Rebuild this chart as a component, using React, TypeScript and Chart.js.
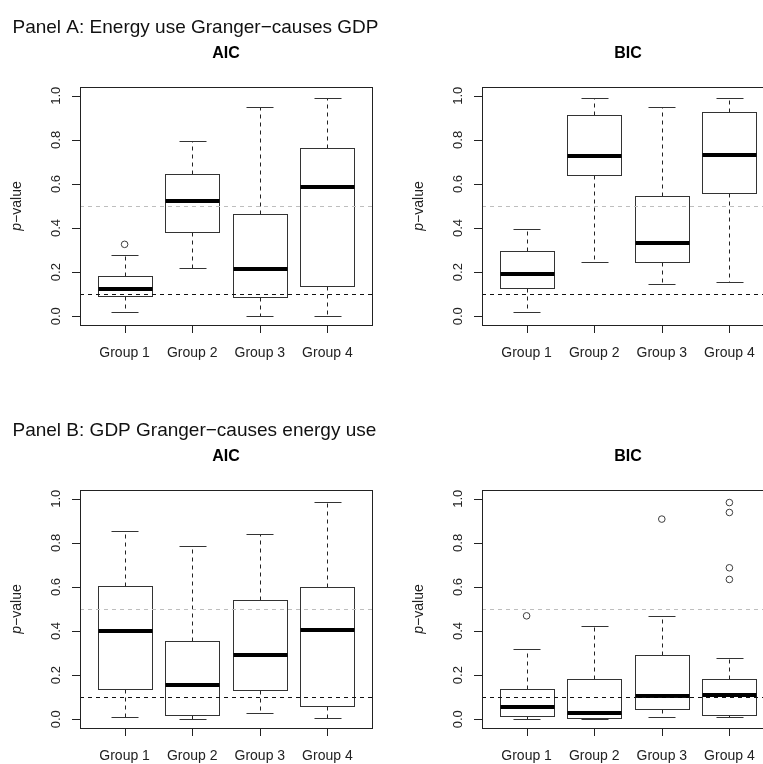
import React, { useEffect, useRef } from "react";
import { Chart, registerables } from "chart.js";

Chart.register(...registerables);

// ---------- data ----------
const groups = ["Group 1", "Group 2", "Group 3", "Group 4"];
const yTicks = [0, 0.2, 0.4, 0.6, 0.8, 1.0];
const yTickLabels = ["0.0", "0.2", "0.4", "0.6", "0.8", "1.0"];
const refBlack = 0.1;
const refGray = 0.5;

// Panel A, AIC
const aAicLow = [0.017, 0.219, 0.003, 0.003];
const aAicQ1 = [0.092, 0.384, 0.088, 0.136];
const aAicMed = [0.125, 0.523, 0.216, 0.585];
const aAicQ3 = [0.184, 0.644, 0.465, 0.761];
const aAicHigh = [0.276, 0.793, 0.947, 0.988];
const aAicOut = [[0.326], [], [], []];

// Panel A, BIC
const aBicLow = [0.021, 0.248, 0.145, 0.154];
const aBicQ1 = [0.128, 0.64, 0.248, 0.557];
const aBicMed = [0.193, 0.727, 0.332, 0.733];
const aBicQ3 = [0.296, 0.912, 0.544, 0.927];
const aBicHigh = [0.397, 0.988, 0.947, 0.988];
const aBicOut = [[], [], [], []];

// Panel B, AIC
const bAicLow = [0.009, 0.0, 0.026, 0.005];
const bAicQ1 = [0.138, 0.018, 0.134, 0.058];
const bAicMed = [0.401, 0.153, 0.293, 0.404];
const bAicQ3 = [0.605, 0.355, 0.54, 0.601];
const bAicHigh = [0.856, 0.788, 0.842, 0.985];
const bAicOut = [[], [], [], []];

// Panel B, BIC
const bBicLow = [0.0, 0.0, 0.009, 0.009];
const bBicQ1 = [0.014, 0.005, 0.044, 0.021];
const bBicMed = [0.056, 0.029, 0.104, 0.112];
const bBicQ3 = [0.136, 0.182, 0.29, 0.182];
const bBicHigh = [0.318, 0.424, 0.469, 0.277];
const bBicOut = [[0.469], [], [0.908], [0.983, 0.938, 0.687, 0.634]];

const headingA = "Panel A: Energy use Granger\u2212causes GDP";
const headingB = "Panel B: GDP Granger\u2212causes energy use";

const FONT = '"Liberation Sans", Arial, Helvetica, sans-serif';

type BoxSet = {
  low: number[];
  q1: number[];
  med: number[];
  q3: number[];
  high: number[];
  out: number[][];
};

type PanelProps = {
  left: number;
  top: number;
  width: number;
  height: number;
  padBottom: number;
  title: string;
  heading?: string;
  box: BoxSet;
};

const crisp = (v: number) => Math.round(v) + 0.5;

function makePlugin(p: PanelProps) {
  return {
    id: "rbox",
    beforeDatasetsDraw(chart: any) {
      const { ctx } = chart;
      const xs = chart.scales.x;
      const ys = chart.scales.y;
      const b = p.box;
      ctx.save();
      for (let i = 0; i < groups.length; i++) {
        const c = i + 1;
        const xc = crisp(xs.getPixelForValue(c));
        const xl = Math.round(xs.getPixelForValue(c - 0.4)) + 0.5;
        const xr = Math.round(xs.getPixelForValue(c + 0.4)) + 0.5;
        const sl = Math.round(xs.getPixelForValue(c - 0.2)) + 0.5;
        const sr = Math.round(xs.getPixelForValue(c + 0.2)) + 0.5;
        const yLow = crisp(ys.getPixelForValue(b.low[i]));
        const yQ1 = crisp(ys.getPixelForValue(b.q1[i]));
        const yMed = ys.getPixelForValue(b.med[i]);
        const yQ3 = crisp(ys.getPixelForValue(b.q3[i]));
        const yHigh = crisp(ys.getPixelForValue(b.high[i]));
        // whiskers
        ctx.strokeStyle = "#222";
        ctx.lineWidth = 1;
        ctx.setLineDash([4, 4]);
        ctx.beginPath();
        ctx.moveTo(xc, yQ3);
        ctx.lineTo(xc, yHigh);
        ctx.moveTo(xc, yQ1);
        ctx.lineTo(xc, yLow);
        ctx.stroke();
        ctx.setLineDash([]);
        // staples
        ctx.strokeStyle = "#333";
        ctx.beginPath();
        ctx.moveTo(sl, yHigh);
        ctx.lineTo(sr, yHigh);
        ctx.moveTo(sl, yLow);
        ctx.lineTo(sr, yLow);
        ctx.stroke();
        // box
        ctx.fillStyle = "#ffffff";
        ctx.fillRect(xl, yQ3, xr - xl, yQ1 - yQ3);
        ctx.strokeStyle = "#333";
        ctx.strokeRect(xl, yQ3, xr - xl, yQ1 - yQ3);
        // median
        ctx.strokeStyle = "#000";
        ctx.lineWidth = 4;
        ctx.beginPath();
        ctx.moveTo(xl, Math.round(yMed));
        ctx.lineTo(xr, Math.round(yMed));
        ctx.stroke();
      }
      ctx.restore();
    },
    afterDatasetsDraw(chart: any) {
      const { ctx, chartArea: a } = chart;
      const ys = chart.scales.y;
      ctx.save();
      ctx.lineWidth = 1;
      ctx.setLineDash([4, 4]);
      const yg = crisp(ys.getPixelForValue(refGray));
      ctx.strokeStyle = "#bebebe";
      ctx.beginPath();
      ctx.moveTo(a.left, yg);
      ctx.lineTo(a.right, yg);
      ctx.stroke();
      const yb = crisp(ys.getPixelForValue(refBlack));
      ctx.strokeStyle = "#111";
      ctx.beginPath();
      ctx.moveTo(a.left, yb);
      ctx.lineTo(a.right, yb);
      ctx.stroke();
      ctx.restore();
    },
    afterDraw(chart: any) {
      const { ctx, chartArea: a } = chart;
      const xs = chart.scales.x;
      const ys = chart.scales.y;
      ctx.save();
      ctx.setLineDash([]);
      ctx.lineWidth = 1;
      ctx.strokeStyle = "#222";
      const L = Math.round(a.left);
      const R = Math.round(a.right);
      const T = Math.round(a.top);
      const B = Math.round(a.bottom);
      ctx.strokeRect(L + 0.5, T + 0.5, R - L, B - T);
      // y ticks
      ctx.fillStyle = "#222";
      ctx.font = `13px ${FONT}`;
      ctx.textAlign = "center";
      ctx.textBaseline = "alphabetic";
      yTicks.forEach((v, k) => {
        const y = crisp(ys.getPixelForValue(v));
        ctx.beginPath();
        ctx.moveTo(L - 8, y);
        ctx.lineTo(L, y);
        ctx.stroke();
        ctx.save();
        ctx.translate(L - 20, ys.getPixelForValue(v));
        ctx.rotate(-Math.PI / 2);
        ctx.fillText(yTickLabels[k], 0, 0);
        ctx.restore();
      });
      // x ticks
      ctx.font = `14px ${FONT}`;
      groups.forEach((g, i) => {
        const x = crisp(xs.getPixelForValue(i + 1));
        ctx.beginPath();
        ctx.moveTo(x, B);
        ctx.lineTo(x, B + 8);
        ctx.stroke();
        ctx.fillText(g, xs.getPixelForValue(i + 1), B + 31.5);
      });
      // title
      ctx.fillStyle = "#000";
      ctx.font = `bold 16px ${FONT}`;
      ctx.fillText(p.title, (a.left + a.right) / 2, T - 29.5);
      // y label
      ctx.save();
      ctx.translate(L - 59, (a.top + a.bottom) / 2);
      ctx.rotate(-Math.PI / 2);
      ctx.fillStyle = "#222";
      ctx.font = `italic 14px ${FONT}`;
      const w1 = ctx.measureText("p").width;
      ctx.font = `14px ${FONT}`;
      const w2 = ctx.measureText("\u2212value").width;
      const start = -(w1 + w2) / 2;
      ctx.textAlign = "left";
      ctx.font = `italic 14px ${FONT}`;
      ctx.fillText("p", start, 0);
      ctx.font = `14px ${FONT}`;
      ctx.fillText("\u2212value", start + w1, 0);
      ctx.restore();
      // heading
      if (p.heading) {
        ctx.fillStyle = "#111";
        ctx.font = `19px ${FONT}`;
        ctx.textAlign = "left";
        ctx.fillText(p.heading, 12.5, 32.5);
      }
      ctx.restore();
    },
  };
}

function BoxPanel(p: PanelProps) {
  const ref = useRef<HTMLCanvasElement>(null);
  useEffect(() => {
    const outliers: { x: number; y: number }[] = [];
    p.box.out.forEach((arr, i) => arr.forEach((v) => outliers.push({ x: i + 1, y: v })));
    const chart = new Chart(ref.current as HTMLCanvasElement, {
      type: "scatter",
      data: {
        datasets: [
          {
            label: "outliers",
            data: outliers,
            pointStyle: "circle",
            pointRadius: 3.3,
            borderColor: "#3c3c3c",
            borderWidth: 1,
            backgroundColor: "rgba(0,0,0,0)",
          },
        ],
      },
      options: {
        responsive: false,
        animation: false,
        devicePixelRatio: 1,
        layout: { padding: { left: 80, right: p.width - 80 - 292, top: 87, bottom: p.padBottom } },
        scales: {
          x: { type: "linear", min: 0.34, max: 4.66, display: false },
          y: { type: "linear", min: -0.04, max: 1.04, display: false },
        },
        plugins: {
          legend: { display: false },
          tooltip: { enabled: false },
          title: { display: false },
        },
      },
      plugins: [makePlugin(p)],
    } as any);
    return () => chart.destroy();
  }, []);
  return (
    <canvas
      ref={ref}
      width={p.width}
      height={p.height}
      style={{ position: "absolute", left: p.left, top: p.top, width: p.width, height: p.height }}
    />
  );
}

export default function App() {
  const aAic: BoxSet = { low: aAicLow, q1: aAicQ1, med: aAicMed, q3: aAicQ3, high: aAicHigh, out: aAicOut };
  const aBic: BoxSet = { low: aBicLow, q1: aBicQ1, med: aBicMed, q3: aBicQ3, high: aBicHigh, out: aBicOut };
  const bAic: BoxSet = { low: bAicLow, q1: bAicQ1, med: bAicMed, q3: bAicQ3, high: bAicHigh, out: bAicOut };
  const bBic: BoxSet = { low: bBicLow, q1: bBicQ1, med: bBicMed, q3: bBicQ3, high: bBicHigh, out: bBicOut };
  return (
    <div
      style={{
        position: "absolute",
        left: 0,
        top: 0,
        width: 763,
        height: 764,
        overflow: "hidden",
        background: "#fff",
      }}
    >
      <BoxPanel left={0} top={0} width={400} height={372} padBottom={47} title="AIC"
        heading={headingA} box={aAic} />
      <BoxPanel left={402} top={0} width={380} height={372} padBottom={47} title="BIC" box={aBic} />
      <BoxPanel left={0} top={403} width={400} height={361} padBottom={36} title="AIC"
        heading={headingB} box={bAic} />
      <BoxPanel left={402} top={403} width={380} height={361} padBottom={36} title="BIC" box={bBic} />
    </div>
  );
}
